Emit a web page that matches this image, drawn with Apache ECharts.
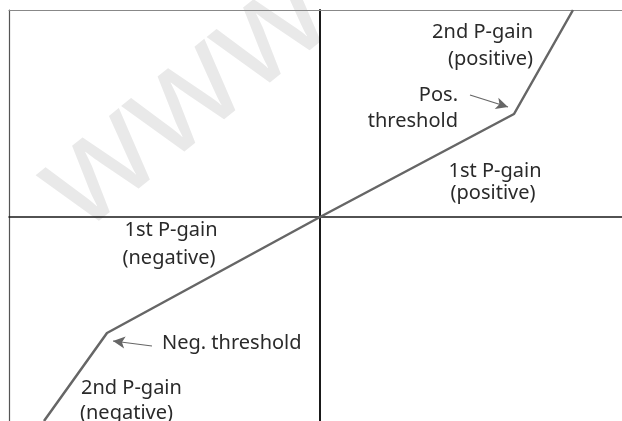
<!DOCTYPE html>
<html>
<head>
<meta charset="utf-8">
<script src="https://cdn.jsdelivr.net/npm/echarts@6/dist/echarts.min.js"></script>
<style>
    html, body { margin: 0; padding: 0; background: #fff; }
    #gainChart { width: 622px; height: 421px; }
</style>
</head>
<body>
<div id="gainChart"></div>
<script>
// axis range (same units as the curve)
var xRange = [-311, 302];
var yRange = [-204, 207];

// characteristic curve: end, neg. threshold, origin, pos. threshold, end
var curveX = [-276, -213, 0, 194, 253];
var curveY = [-204, -116, 0, 103, 207];

// threshold arrows [from, to]
var posArrow = [[150, 122], [188, 110]];
var negArrow = [[-168, -129], [-207, -124]];

var curveData = curveX.map(function (x, i) { return [x, curveY[i]]; });

var chart = echarts.init(document.getElementById("gainChart"));
var txt = { fill: "#2a2a2a", font: '20px "Noto Sans"', textVerticalAlign: "middle" };
function label(text, x, y, align) {
    return {
        type: "text", x: x, y: y, z: 10,
        style: Object.assign({ text: text, textAlign: align }, txt)
    };
}

var option = {
    animation: false,
    grid: { left: 9, top: 10, right: 0, bottom: 0 },
    xAxis: [
        {
            type: "value", min: xRange[0], max: xRange[1],
            axisLine: { onZero: true, lineStyle: { color: "#1a1a1a", width: 1.5 } },
            axisTick: { show: false }, axisLabel: { show: false }, splitLine: { show: false }
        },
        {
            // frame top
            type: "value", position: "top", min: xRange[0], max: xRange[1],
            axisLine: { onZero: false, lineStyle: { color: "#888", width: 1.2 } },
            axisTick: { show: false }, axisLabel: { show: false }, splitLine: { show: false }
        }
    ],
    yAxis: [
        {
            type: "value", min: yRange[0], max: yRange[1],
            axisLine: { onZero: true, lineStyle: { color: "#1a1a1a", width: 2 } },
            axisTick: { show: false }, axisLabel: { show: false }, splitLine: { show: false }
        },
        {
            // frame left
            type: "value", position: "left", min: yRange[0], max: yRange[1],
            axisLine: { onZero: false, lineStyle: { color: "#555", width: 1.2 } },
            axisTick: { show: false }, axisLabel: { show: false }, splitLine: { show: false }
        }
    ],
    graphic: [
        {
            type: "text", x: 185, y: 100, rotation: 0.68, z: -10,
            style: {
                text: "www", fill: "#e9e9e9",
                font: '140px "Noto Sans"',
                textAlign: "center", textVerticalAlign: "middle"
            }
        },
        label("2nd P-gain", 533, 32, "right"),
        label("(positive)", 533, 59, "right"),
        label("Pos.", 458, 95, "right"),
        label("threshold", 458, 121, "right"),
        label("1st P-gain", 495, 171, "center"),
        label("(positive)", 493, 193, "center"),
        label("1st P-gain", 171, 230, "center"),
        label("(negative)", 169, 258, "center"),
        label("Neg. threshold", 162, 343, "left"),
        label("2nd P-gain", 81, 388, "left"),
        label("(negative)", 80, 413, "left")
    ],
    series: [
        {
            type: "line",
            data: curveData,
            symbol: "none",
            clip: true,
            lineStyle: { color: "#666", width: 2.5 },
            markLine: {
                silent: true,
                symbol: ["none", "arrow"],
                symbolSize: [9, 12],
                label: { show: false },
                lineStyle: { color: "#666", width: 1.2, type: "solid" },
                data: [
                    [{ coord: posArrow[0] }, { coord: posArrow[1] }],
                    [{ coord: negArrow[0] }, { coord: negArrow[1] }]
                ]
            }
        }
    ]
};

option && chart.setOption(option);
</script>
</body>
</html>
